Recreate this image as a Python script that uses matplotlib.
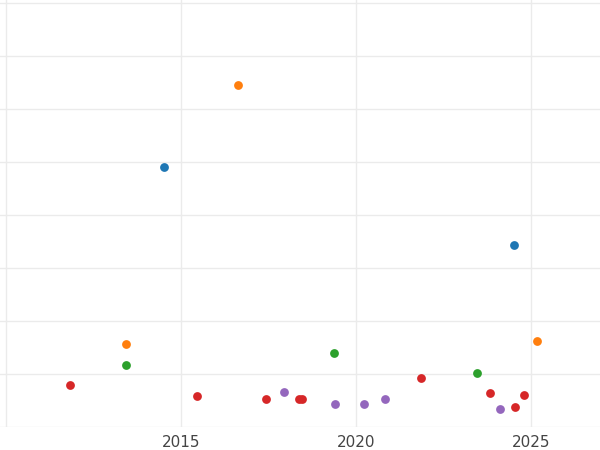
import matplotlib
matplotlib.use("Agg")
import matplotlib.pyplot as plt

blue_x = [2014.51, 2024.51]; blue_y = [4.91, 3.43]
orange_x = [2016.63, 2013.43, 2025.17]; orange_y = [6.45, 1.57, 1.62]
green_x = [2013.43, 2019.37, 2023.46]; green_y = [1.17, 1.40, 1.02]
red_x = [2011.83, 2015.46, 2017.43, 2018.37, 2018.46, 2021.86, 2023.83, 2024.54, 2024.80]
red_y = [0.79, 0.58, 0.53, 0.53, 0.53, 0.92, 0.64, 0.38, 0.60]
purple_x = [2017.94, 2019.40, 2020.23, 2020.83, 2024.11]
purple_y = [0.66, 0.43, 0.43, 0.53, 0.34]
xticks = [2015, 2020, 2025]

fig = plt.figure(figsize=(6, 4.5), dpi=100)
ax = fig.add_axes([0, 23/450, 1, 427/450])
for xs, ys, c in [(blue_x, blue_y, "#1f77b4"), (orange_x, orange_y, "#ff7f0e"),
                  (green_x, green_y, "#2ca02c"), (red_x, red_y, "#d62728"),
                  (purple_x, purple_y, "#9467bd")]:
    ax.scatter(xs, ys, s=40, color=c, zorder=3, linewidths=0)
ax.set_xlim(2009.83, 2026.97)
ax.set_ylim(0, 427/53)
ax.set_xticks([2010] + xticks, [""] + [str(t) for t in xticks])
ax.set_yticks(range(0, 9))
ax.set_yticklabels([])
ax.grid(True, color="#ebebeb", linewidth=1)
ax.set_axisbelow(True)
for s in ax.spines.values():
    s.set_visible(False)
ax.tick_params(length=0, labelsize=11, labelcolor="#444444", pad=6)
fig.savefig("out.png", dpi=100)
